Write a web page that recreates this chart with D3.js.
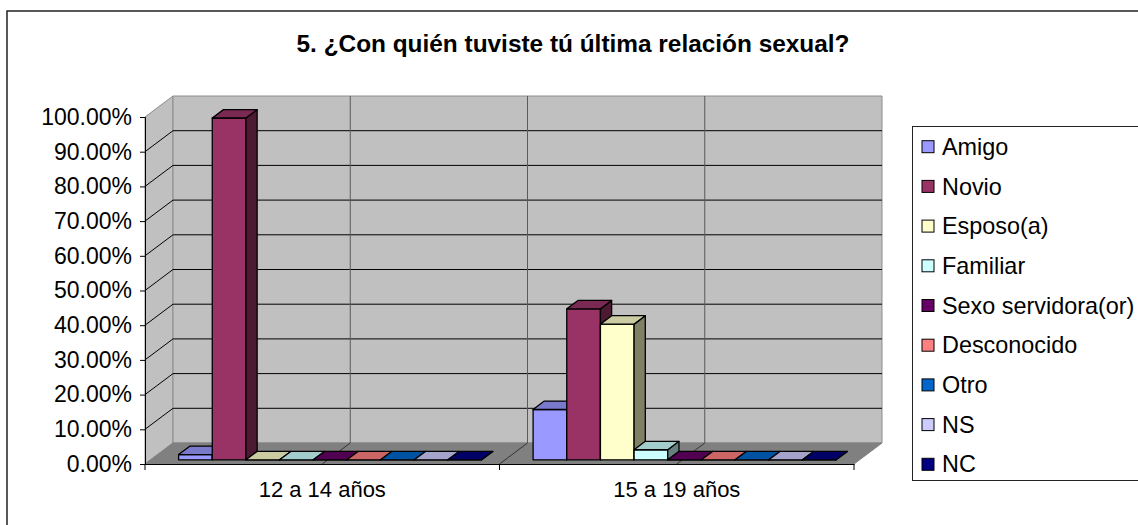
<!DOCTYPE html>
<html>
<head>
<meta charset="utf-8">
<script src="https://cdn.jsdelivr.net/npm/d3@7"></script>
<style>
body { margin: 0; background: #fff; }
svg { display: block; font-family: "Liberation Sans", Arial, sans-serif; }
</style>
</head>
<body>
<script>

var titulo = "5. ¿Con quién tuviste tú última relación sexual?";
var categorias = ["12 a 14 años", "15 a 19 años"];
var series = ["Amigo", "Novio", "Esposo(a)", "Familiar", "Sexo servidora(or)", "Desconocido", "Otro", "NS", "NC"];
var valores12a14 = [1.5, 98.5, 0, 0, 0, 0, 0, 0, 0];
var valores15a19 = [14.5, 43.5, 39.1, 2.9, 0, 0, 0, 0, 0];
var colores = ["#9999ff", "#993366", "#ffffcc", "#ccffff", "#660066", "#ff8080", "#0066cc", "#ccccff", "#000080"];
var ticksY = [0, 10, 20, 30, 40, 50, 60, 70, 80, 90, 100];

var valores = [valores12a14, valores15a19];

var w = 1138;
var h = 525;
var DX = 28, DY = 21;   // profundidad 3D
var z0 = 0.2, z1 = 0.6; // profundidad de las barras

var svg = d3.select("body")
        .append("svg")
        .attr("width", w)
        .attr("height", h);

var y = d3.scaleLinear().domain([0, 100]).range([464, 117]);
var x = d3.scaleBand().domain(categorias).range([145, 854]);
var xs = d3.scaleBand().domain(series).range([28, 331]);

// punto proyectado
function pt(px, v, z) {
  return [px + z * DX, y(v) - z * DY];
}
function poly(p) {
  return p.map(function(d) { return d.join(","); }).join(" ");
}
function tono(c, k) {
  var r = d3.rgb(c);
  return d3.rgb(r.r * k, r.g * k, r.b * k).formatHex();
}

// marco exterior
svg.append("rect")
  .attr("x", 7).attr("y", 11)
  .attr("width", 1140).attr("height", 520)
  .attr("fill", "#fff").attr("stroke", "#222").attr("stroke-width", 1.5);

svg.append("text")
  .text(titulo)
  .attr("x", 573).attr("y", 52)
  .attr("text-anchor", "middle")
  .attr("font-weight", "bold")
  .attr("font-size", "24.4px");

var xL = x.range()[0], xR = x.range()[1];

// paredes y piso
svg.append("polygon")
  .attr("points", poly([pt(xL, 0, 0), pt(xL, 100, 0), pt(xL, 100, 1), pt(xL, 0, 1)]))
  .attr("fill", "#c0c0c0").attr("stroke", "#8c8c8c");
svg.append("polygon")
  .attr("points", poly([pt(xL, 0, 1), pt(xR, 0, 1), pt(xR, 100, 1), pt(xL, 100, 1)]))
  .attr("fill", "#c0c0c0").attr("stroke", "#8c8c8c");
svg.append("polygon")
  .attr("points", poly([pt(xL, 0, 0), pt(xR, 0, 0), pt(xR, 0, 1), pt(xL, 0, 1)]))
  .attr("fill", "#808080").attr("stroke", "#808080");

// lineas de division
var grid = ticksY.filter(function(d) { return d > 0 && d < 100; });
svg.selectAll(".gside")
  .data(grid).enter().append("line")
  .attr("x1", function(d) { return pt(xL, d, 0)[0]; })
  .attr("y1", function(d) { return pt(xL, d, 0)[1]; })
  .attr("x2", function(d) { return pt(xL, d, 1)[0]; })
  .attr("y2", function(d) { return pt(xL, d, 1)[1]; })
  .attr("stroke", "#000");
svg.selectAll(".gback")
  .data(grid).enter().append("line")
  .attr("x1", function(d) { return pt(xL, d, 1)[0]; })
  .attr("y1", function(d) { return pt(xL, d, 1)[1]; })
  .attr("x2", function(d) { return pt(xR, d, 1)[0]; })
  .attr("y2", function(d) { return pt(xR, d, 1)[1]; })
  .attr("stroke", "#000");

var cortes = [x(categorias[0]) + x.bandwidth() / 2, x(categorias[1]), x(categorias[1]) + x.bandwidth() / 2];
svg.selectAll(".gvert")
  .data(cortes).enter().append("line")
  .attr("x1", function(d) { return pt(d, 0, 1)[0]; })
  .attr("y1", function(d) { return pt(d, 0, 1)[1]; })
  .attr("x2", function(d) { return pt(d, 100, 1)[0]; })
  .attr("y2", function(d) { return pt(d, 100, 1)[1]; })
  .attr("stroke", "#5a5a5a");
svg.selectAll(".gfloor")
  .data(cortes).enter().append("line")
  .attr("x1", function(d) { return pt(d, 0, 0)[0]; })
  .attr("y1", function(d) { return pt(d, 0, 0)[1]; })
  .attr("x2", function(d) { return pt(d, 0, 1)[0]; })
  .attr("y2", function(d) { return pt(d, 0, 1)[1]; })
  .attr("stroke", "#333");

// eje Y
var ejeY = svg.append("g")
  .attr("transform", "translate(" + xL + ",0)")
  .call(d3.axisLeft(y).tickValues(ticksY)
    .tickFormat(function(d) { return d.toFixed(2) + "%"; })
    .tickSize(5).tickPadding(8));
ejeY.select(".domain").attr("stroke", "#000");
ejeY.selectAll("text").attr("font-size", "23px").attr("fill", "#000")
  .attr("font-family", "Liberation Sans, Arial, sans-serif");

// eje X
var ejeX = svg.append("g")
  .attr("transform", "translate(0," + y(0) + ")")
  .call(d3.axisBottom(x).tickSize(0).tickPadding(0));
ejeX.select(".domain").attr("stroke", "#000");
ejeX.selectAll("text").attr("font-size", "22px").attr("fill", "#000")
  .attr("dy", null).attr("y", 33)
  .attr("font-family", "Liberation Sans, Arial, sans-serif");
var limites = [x(categorias[0]), x(categorias[1]), xR];
ejeX.selectAll(".lim")
  .data(limites).enter().append("line")
  .attr("x1", function(d) { return d; }).attr("x2", function(d) { return d; })
  .attr("y1", 0).attr("y2", 6)
  .attr("stroke", "#000");

// barras
var barras = [];
categorias.forEach(function(c, ci) {
  series.forEach(function(s, si) {
    barras.push({cat: c, serie: s, v: valores[ci][si], color: colores[si]});
  });
});

var g = svg.selectAll(".barra")
  .data(barras).enter().append("g")
  .attr("class", "barra");

g.each(function(d) {
  var a = x(d.cat) + xs(d.serie);
  var b = a + xs.bandwidth();
  var el = d3.select(this);
  el.append("polygon")
    .attr("points", poly([pt(a, 0, z0), pt(b, 0, z0), pt(b, d.v, z0), pt(a, d.v, z0)]))
    .attr("fill", d.color);
  el.append("polygon")
    .attr("points", poly([pt(b, 0, z0), pt(b, 0, z1), pt(b, d.v, z1), pt(b, d.v, z0)]))
    .attr("fill", tono(d.color, 0.5));
  el.append("polygon")
    .attr("points", poly([pt(a, d.v, z0), pt(b, d.v, z0), pt(b, d.v, z1), pt(a, d.v, z1)]))
    .attr("fill", tono(d.color, 0.8));
});
g.selectAll("polygon")
  .attr("stroke", "#000")
  .attr("stroke-width", 1.3)
  .attr("stroke-linejoin", "round");

// leyenda
var ly = d3.scalePoint().domain(series).range([146.7, 464.3]);
svg.append("rect")
  .attr("x", 912.5).attr("y", 126.5)
  .attr("width", 240).attr("height", 354)
  .attr("fill", "#fff").attr("stroke", "#222");

svg.selectAll(".sw")
  .data(series).enter().append("rect")
  .attr("x", 922).attr("y", function(d) { return ly(d) - 6; })
  .attr("width", 12).attr("height", 12)
  .attr("fill", function(d, i) { return colores[i]; })
  .attr("stroke", "#000");

svg.selectAll(".lt")
  .data(series).enter().append("text")
  .text(function(d) { return d; })
  .attr("x", 942)
  .attr("y", function(d) { return ly(d); })
  .attr("dy", "0.35em")
  .attr("font-size", "23.4px");

</script>
</body>
</html>
